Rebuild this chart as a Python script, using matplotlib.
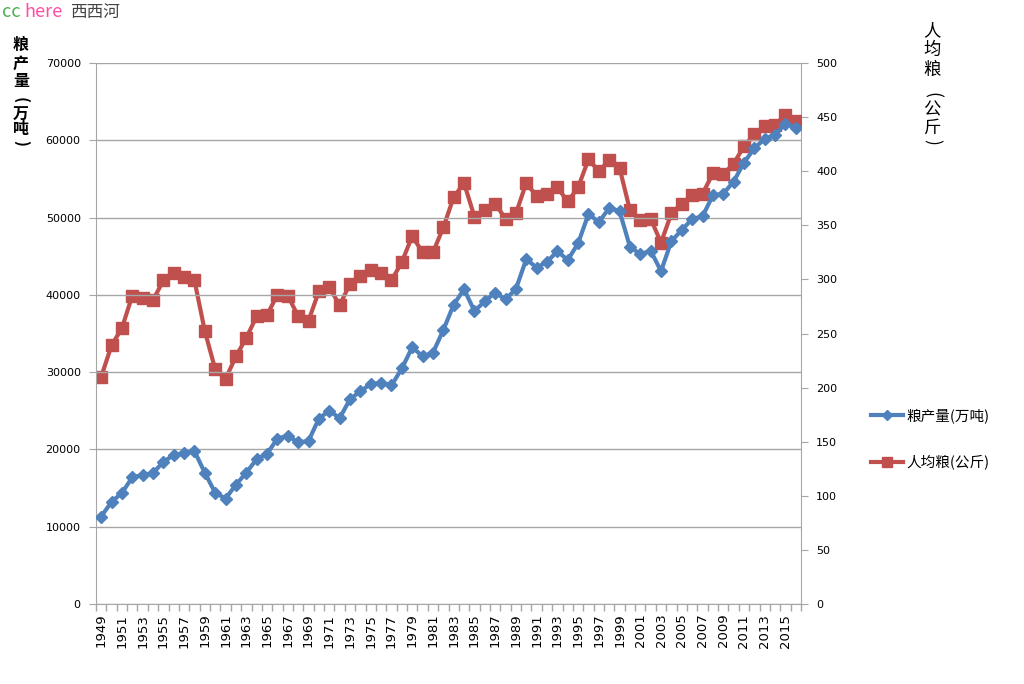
import matplotlib
matplotlib.use("Agg")
import matplotlib.pyplot as plt
import numpy as np

plt.rcParams['font.family'] = ['DejaVu Sans', 'Noto Sans CJK SC']

# data: China grain output (10k tonnes) and per-capita grain (kg), 1949-2016
years = list(range(1949, 2017))
output = [11318, 13213, 14369, 16392, 16683, 16952, 18394, 19275, 19505, 19765,
          16968, 14385, 13650, 15441, 17000, 18750, 19453, 21400, 21782, 20906,
          21097, 23996, 25014, 24048, 26494, 27527, 28452, 28631, 28273, 30477,
          33212, 32056, 32502, 35450, 38728, 40731, 37911, 39151, 40298, 39408,
          40755, 44624, 43529, 44266, 45649, 44510, 46662, 50454, 49417, 51230,
          50839, 46218, 45264, 45706, 43070, 46947, 48402, 49804, 50160, 52871,
          53082, 54648, 57121, 58958, 60194, 60703, 62144, 61624]
per_capita = [210, 239, 255, 285, 283, 281, 299, 306, 302, 299,
              252, 217, 208, 229, 246, 266, 267, 286, 285, 266,
              262, 289, 293, 276, 296, 303, 309, 306, 299, 316,
              340, 325, 325, 348, 376, 389, 358, 364, 370, 356,
              361, 389, 377, 379, 385, 372, 385, 411, 400, 410,
              403, 364, 355, 356, 334, 361, 370, 378, 379, 398,
              397, 407, 423, 434, 442, 443, 452, 446]

label_output = '粮产量(万吨)'
label_pc = '人均粮(公斤)'

BLUE = '#4F81BD'
RED = '#C0504D'
GRID = '#A6A6A6'

fig = plt.figure(figsize=(10.24, 6.84), dpi=100)
ax = fig.add_axes([96 / 1024, 1 - 604 / 684, 705 / 1024, 541 / 684])
ax2 = ax.twinx()

x = np.arange(len(years))
l1, = ax.plot(x, output, color=BLUE, lw=3, marker='D', ms=6, mec=BLUE, mfc=BLUE,
              label=label_output, zorder=3)
l2, = ax2.plot(x, per_capita, color=RED, lw=3, marker='s', ms=8, mec=RED, mfc=RED,
               label=label_pc, zorder=3)
ax.set_zorder(ax2.get_zorder() + 1)
ax.patch.set_visible(False)

ax.set_xlim(-0.5, len(years) - 0.5)
ax.set_ylim(0, 70000)
ax2.set_ylim(0, 500)
ax.set_yticks(np.arange(0, 70001, 10000))
ax2.set_yticks(np.arange(0, 501, 50))
ax.grid(axis='y', color=GRID, lw=1)

ax.set_xticks(x[::2])
ax.set_xticklabels([str(y) for y in years[::2]], rotation=90, fontsize=9.5)
ax.set_xticks(np.arange(-0.5, len(years), 1), minor=True)
ax.tick_params(axis='x', which='major', length=0, pad=7)
ax.tick_params(axis='x', which='minor', length=5, color=GRID, width=1)
ax.tick_params(axis='y', length=5, color=GRID, labelsize=8, pad=6)
ax2.tick_params(axis='y', length=5, color=GRID, labelsize=8, pad=6)

for a in (ax, ax2):
    for s in a.spines.values():
        s.set_visible(False)
ax.spines['left'].set_visible(True)
ax.spines['bottom'].set_visible(True)
ax2.spines['right'].set_visible(True)
ax.spines['left'].set_color(GRID)
ax.spines['bottom'].set_color(GRID)
ax2.spines['right'].set_color(GRID)

# vertical axis titles, one character at a time
cjk = ['Noto Sans CJK SC', 'DejaVu Sans']


def vertical_title(xpix, chars, ypix, size, weight):
    for ch, yp in zip(chars, ypix):
        rot = 0
        if ch in '()':
            rot = -90
        fig.text(xpix / 1024, 1 - yp / 684, ch, ha='center', va='center', rotation=rot,
                 fontsize=size, fontweight=weight, family=cjk)


vertical_title(21, '粮产量(万吨)', [45, 64, 81, 100, 114, 129, 143], 11.5, 'bold')
vertical_title(932, '人均粮(公斤)', [31, 50, 70, 95, 109, 128, 142], 12.5, 'normal')

fig.legend(handles=[l1, l2], loc='center left', bbox_to_anchor=(858 / 1024, 1 - 439 / 684),
           frameon=False, prop={'family': cjk, 'size': 10.5}, labelspacing=2.2,
           handlelength=2.2, handletextpad=0.2, markerscale=0.9)

# watermark
fig.text(2 / 1024, 1 - 12 / 684, 'cc', color='#4CAF50', fontsize=13, va='center', family=cjk)
fig.text(24 / 1024, 1 - 12 / 684, 'here', color='#FF4FA3', fontsize=13, va='center', family=cjk)
fig.text(70 / 1024, 1 - 12 / 684, '西西河', color='#444444', fontsize=12, va='center', family=cjk)

fig.savefig('out.png', dpi=100)
